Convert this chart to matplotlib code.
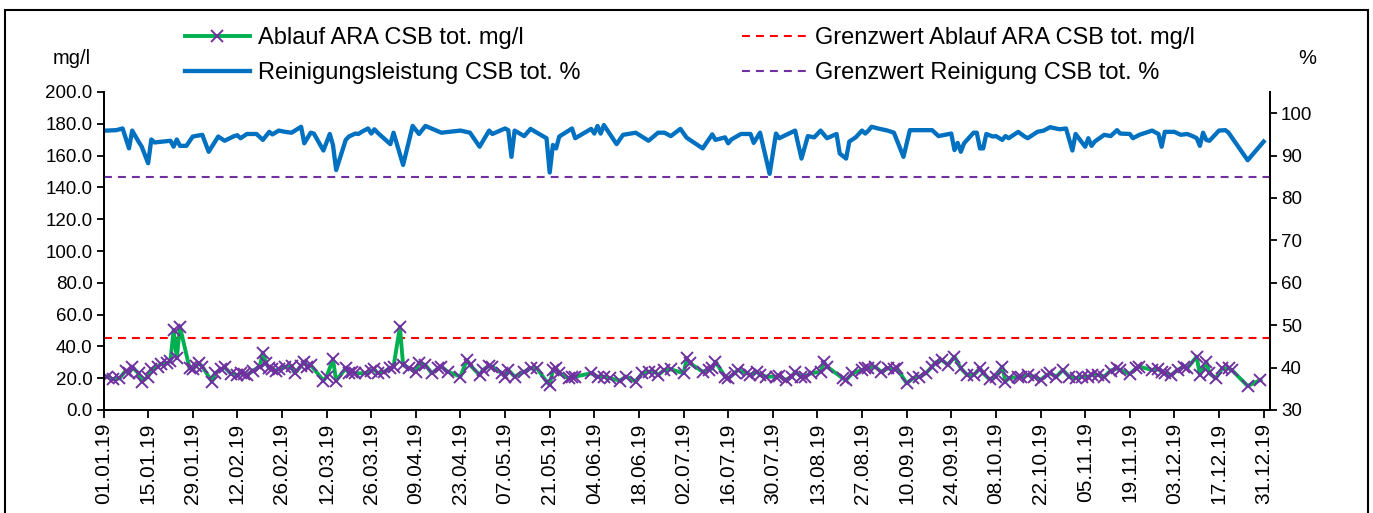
import matplotlib
matplotlib.use('Agg')
import matplotlib.pyplot as plt
import matplotlib.dates as mdates
from matplotlib.patches import Rectangle
import numpy as np

plt.rcParams['font.family'] = ['Liberation Sans', 'DejaVu Sans']

# Ablauf ARA CSB tot. mg/l  (Tag im Jahr 2019 ab 01.01., Wert)
ablauf_tag = [1, 3, 5, 7, 8, 9, 11, 12, 14, 15, 17, 18, 20, 21, 22, 23, 24, 27, 28, 29, 30, 31, 34, 35,
              37, 38, 40, 42, 43, 44, 45, 47, 49, 50, 51, 52, 53, 54, 55, 57, 59, 60, 62, 63, 64, 65,
              69, 70, 72, 73, 76, 77, 78, 79, 82, 84, 85, 86, 88, 90, 91, 93, 94, 96, 98, 99, 101,
              103, 105, 106, 108, 112, 114, 115, 118, 119, 121, 122, 125, 126, 127, 129, 132, 134,
              136, 139, 140, 141, 142, 143, 146, 147, 148, 153, 155, 157, 159, 162, 164, 167, 169,
              171, 173, 174, 176, 178, 182, 183, 184, 188, 190, 191, 192, 195, 196, 198, 199, 202,
              203, 205, 206, 208, 211, 212, 214, 216, 217, 219, 220, 222, 225, 226, 227, 232, 233,
              235, 238, 239, 240, 242, 244, 246, 248, 249, 252, 254, 256, 258, 260, 261, 263, 265,
              267, 269, 271, 273, 275, 276, 278, 280, 282, 283, 284, 287, 288, 290, 292, 294, 296,
              297, 299, 301, 303, 305, 307, 309, 310, 312, 314, 316, 318, 319, 322, 324, 325, 329,
              331, 332, 333, 335, 337, 339, 340, 343, 344, 346, 347, 349, 351, 353, 354, 359, 363]
ablauf_csb = [21.0, 19.3, 19.9, 24.8, 23.1, 26.9, 23.1, 17.9, 21.0, 25.6, 27.3, 29.0, 29.4, 31.0, 50.3,
              32.5, 52.4, 26.2, 25.6, 27.7, 29.4, 27.3, 17.9, 23.1, 25.6, 26.9, 22.7, 22.0, 23.1, 22.7,
              22.0, 24.8, 27.3, 36.1, 29.4, 26.2, 25.6, 24.8, 25.6, 26.9, 27.7, 23.1, 27.7, 30.4, 27.3,
              28.3, 18.5, 21.0, 31.9, 18.5, 26.2, 23.1, 24.1, 23.1, 23.1, 24.8, 25.6, 23.1, 24.1, 26.2,
              27.3, 52.4, 28.3, 26.2, 24.1, 29.8, 28.3, 23.1, 26.2, 27.3, 24.1, 21.0, 31.5, 28.3, 22.0,
              25.2, 27.7, 27.3, 23.1, 21.0, 25.2, 21.0, 24.1, 26.2, 26.2, 17.9, 15.7, 25.2, 26.2, 23.1,
              19.9, 21.0, 21.0, 23.1, 21.0, 21.0, 19.9, 18.5, 21.0, 17.9, 23.1, 24.1, 24.1, 22.0, 25.2,
              25.6, 23.1, 32.5, 29.4, 24.1, 25.2, 26.2, 30.4, 21.0, 19.9, 23.1, 25.2, 23.1, 22.0, 24.1,
              22.0, 21.0, 21.0, 21.4, 18.9, 21.0, 24.1, 21.0, 21.0, 23.1, 24.1, 30.4, 27.3, 19.9, 18.9,
              23.1, 25.2, 26.2, 26.2, 27.3, 24.1, 26.2, 25.6, 26.2, 16.8, 19.9, 21.0, 23.1, 27.3, 29.8,
              31.5, 28.3, 33.6, 26.2, 22.0, 22.0, 26.2, 23.1, 19.3, 21.0, 27.3, 17.9, 19.9, 21.0, 21.0,
              22.0, 21.0, 18.9, 22.0, 23.1, 21.0, 25.2, 21.0, 19.9, 21.0, 21.0, 22.0, 22.0, 21.0, 24.8,
              26.2, 25.2, 22.7, 26.2, 27.3, 25.2, 25.6, 24.1, 23.1, 22.0, 25.2, 27.3, 26.2, 33.6, 22.0,
              30.4, 23.1, 19.9, 26.2, 26.2, 25.2, 15.1, 18.9]

# Reinigungsleistung CSB tot. %
rein_tag = [1, 4, 6, 8, 9, 11, 12, 14, 15, 16, 21, 22, 23, 24, 26, 28, 31, 33, 36, 38, 41, 42, 43, 45,
            48, 50, 52, 53, 55, 57, 59, 62, 63, 65, 66, 69, 71, 72, 73, 76, 77, 79, 80, 81, 83, 84,
            85, 86, 90, 91, 94, 97, 99, 101, 106, 112, 115, 118, 121, 122, 126, 127, 128, 129, 132,
            134, 136, 139, 140, 141, 142, 143, 147, 148, 153, 154, 155, 156, 157, 161, 163, 167,
            171, 174, 176, 178, 181, 183, 188, 191, 192, 194, 195, 196, 197, 200, 203, 204, 206,
            209, 211, 212, 217, 219, 221, 223, 225, 227, 230, 231, 233, 234, 236, 238, 239, 240,
            241, 243, 246, 248, 251, 253, 260, 262, 266, 267, 268, 269, 270, 273, 274, 275, 276,
            277, 279, 280, 282, 283, 284, 287, 289, 290, 293, 295, 297, 300, 302, 304, 305, 308,
            309, 310, 311, 314, 316, 318, 319, 322, 323, 325, 329, 331, 332, 333, 336, 338, 340,
            342, 343, 344, 345, 346, 347, 350, 352, 353, 359, 364]
rein_csb = [95.9, 96.0, 96.4, 91.7, 95.9, 93.3, 92.1, 88.2, 93.8, 93.1, 93.5, 92.1, 93.8, 92.3, 92.3,
            94.5, 94.9, 90.9, 94.5, 93.5, 94.6, 94.8, 94.1, 95.1, 95.1, 93.7, 95.6, 95.0, 95.9, 95.6,
            95.4, 96.8, 92.9, 95.4, 95.2, 91.2, 95.1, 92.5, 86.6, 93.7, 94.5, 95.2, 95.1, 95.6, 96.4,
            95.2, 96.2, 95.4, 92.7, 95.4, 87.8, 97.0, 95.1, 97.0, 95.4, 95.9, 95.4, 92.1, 95.9, 95.1,
            96.4, 96.0, 89.7, 95.9, 94.6, 96.3, 95.4, 94.1, 86.0, 92.5, 91.7, 94.5, 96.4, 94.1, 96.3,
            95.2, 97.0, 95.2, 97.2, 92.7, 94.9, 95.4, 93.5, 95.4, 95.4, 94.6, 96.3, 94.2, 91.7, 95.0,
            93.7, 94.1, 94.3, 92.9, 93.8, 95.1, 95.1, 93.0, 95.4, 85.7, 95.2, 94.1, 95.9, 89.3, 94.6,
            94.3, 95.9, 94.1, 95.1, 90.5, 89.3, 93.3, 94.3, 95.9, 95.2, 95.9, 96.8, 96.4, 95.9, 95.4,
            89.7, 96.0, 96.0, 94.6, 95.2, 91.3, 93.0, 90.9, 92.9, 95.4, 95.4, 91.7, 91.7, 95.1, 94.5,
            94.6, 93.7, 94.6, 94.1, 95.6, 94.5, 94.1, 95.6, 95.9, 96.7, 96.2, 96.4, 91.2, 95.1, 92.1,
            94.1, 92.3, 93.3, 94.9, 94.6, 96.0, 95.2, 95.1, 94.1, 94.9, 95.9, 95.1, 92.1, 95.6, 95.6,
            94.9, 95.1, 94.5, 94.1, 92.3, 95.4, 93.7, 93.5, 95.9, 96.0, 95.4, 88.9, 93.3]

grenz_ablauf = 45.0
grenz_rein = 85.0

start = np.datetime64('2019-01-01')
ablauf_dat = start + np.array(ablauf_tag).astype('timedelta64[D]')
rein_dat = start + np.array(rein_tag).astype('timedelta64[D]')
tick_dat = start + np.arange(0, 365, 14).astype('timedelta64[D]')

W, H = 1373, 513
fig = plt.figure(figsize=(W / 100, H / 100), dpi=100)
fig.patches.append(Rectangle((5 / W, -0.02), 1363 / W, 1.02 - 10 / H, transform=fig.transFigure,
                             fill=False, ec='black', lw=1.5))

ax = fig.add_axes([103.5 / W, 1 - 410 / H, (1270 - 103.5) / W, (410 - 92) / H])
ax2 = ax.twinx()

l_grenz_a = ax.axhline(grenz_ablauf, color='#FF0000', lw=1.5, dashes=(3.8, 2.9))
l_ablauf, = ax.plot(ablauf_dat, ablauf_csb, color='#00B050', lw=2.8, marker='x', ms=8.5,
                    mec='#7030A0', mew=1.4)
l_grenz_r = ax2.axhline(grenz_rein, color='#7030A0', lw=1.5, dashes=(3.8, 2.9))
l_rein, = ax2.plot(rein_dat, rein_csb, color='#0070C0', lw=3.1)

ax.set_ylim(0, 200)
ax.set_yticks(np.arange(0, 201, 20))
ax.yaxis.set_major_formatter(matplotlib.ticker.FormatStrFormatter('%.1f'))
ax2.set_ylim(30, 105)
ax2.set_yticks(np.arange(30, 101, 10))
ax.set_xlim(start, start + np.timedelta64(366, 'D'))
ax.set_xticks(tick_dat)
ax.xaxis.set_major_formatter(mdates.DateFormatter('%d.%m.%y'))
plt.setp(ax.get_xticklabels(), rotation=90)

for a in (ax, ax2):
    a.spines['top'].set_visible(False)
    for s in a.spines.values():
        s.set_linewidth(1.3)
    a.tick_params(direction='out', length=5, width=1.3, labelsize=13.5, pad=3)
ax.tick_params(axis='x', labelsize=15, length=6)

fig.text(72 / W, 1 - 58 / H, 'mg/l', ha='center', va='center', fontsize=14.5)
fig.text(1307 / W, 1 - 58 / H, '%', ha='center', va='center', fontsize=14.5)

kw = dict(loc='upper left', frameon=False, fontsize=17, borderpad=0, borderaxespad=0,
          handlelength=2.75, handletextpad=0.34, labelspacing=0.56, numpoints=1)
fig.legend([l_ablauf, l_rein], ['Ablauf ARA CSB tot. mg/l', 'Reinigungsleistung CSB tot. %'],
           bbox_to_anchor=(185 / W, 1 - 27 / H), **kw)
fig.legend([l_grenz_a, l_grenz_r], ['Grenzwert Ablauf ARA CSB tot. mg/l', 'Grenzwert Reinigung CSB tot. %'],
           bbox_to_anchor=(742 / W, 1 - 27 / H), **kw)

fig.savefig('out.png', dpi=100)
